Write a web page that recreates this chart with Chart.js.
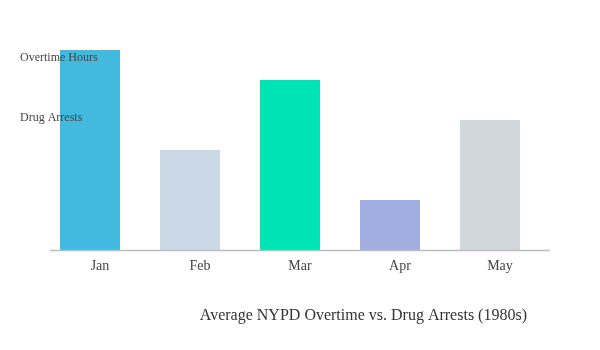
<!DOCTYPE html>
<html>
<head>
<meta charset="utf-8">
<style>
  html, body { margin: 0; padding: 0; background: #fff; }
  #wrap { width: 600px; height: 350px; }
</style>
<script src="https://cdn.jsdelivr.net/npm/chart.js@4"></script>
</head>
<body>
<div id="wrap"><canvas id="myChart" width="600" height="350"></canvas></div>
<script>
Chart.defaults.font.family = '"Liberation Serif", serif';
Chart.defaults.font.size = 13;
Chart.defaults.color = '#444';

// data
const months = ['Jan', 'Feb', 'Mar', 'Apr', 'May'];
const values = [200, 100, 170, 50, 130];
const barColors = ['#42b9de', '#cbd8e6', '#00e3b5', '#a2aee0', '#d0d8db'];
const yLabels = ['Overtime Hours', 'Drug Arrests'];
const yLabelValues = [192, 132];

// shifted baseline + title nudge
const tweaks = {
  id: 'tweaks',
  afterLayout(chart) {
    if (chart.titleBlock) chart.titleBlock.right -= 13;
  },
  afterDatasetsDraw(chart) {
    const x = chart.scales.x;
    const ctx = chart.ctx;
    ctx.save();
    ctx.strokeStyle = '#bdbdbd';
    ctx.lineWidth = 1.5;
    ctx.beginPath();
    ctx.moveTo(x.left + 10, x.top + 0.5);
    ctx.lineTo(x.right + 10, x.top + 0.5);
    ctx.stroke();
    ctx.restore();
  }
};

const config = {
  type: 'bar',
  data: {
    labels: months,
    datasets: [{
      data: values,
      backgroundColor: barColors,
      borderWidth: 0,
      barPercentage: 0.6,
      categoryPercentage: 1.0
    }]
  },
  options: {
    responsive: false,
    animation: false,
    layout: {
      padding: { left: 20, top: 50, right: 60, bottom: 15 }
    },
    scales: {
      x: {
        grid: { display: false, drawTicks: false },
        border: { display: false },
        ticks: { padding: 8, labelOffset: 10, color: '#444', font: { size: 14 } }
      },
      y: {
        min: 0,
        max: 200,
        grid: { display: false, drawTicks: false },
        border: { display: false },
        afterFit(scale) { scale.width = 20; },
        afterBuildTicks(scale) {
          scale.ticks = yLabelValues.map(v => ({ value: v }));
        },
        ticks: {
          z: 1,
          mirror: true,
          crossAlign: 'near',
          padding: -20,
          color: '#444',
          font: { size: 12 },
          callback: (v, i) => yLabels[i]
        }
      }
    },
    plugins: {
      legend: { display: false },
      tooltip: { enabled: false },
      title: {
        display: true,
        position: 'bottom',
        align: 'end',
        text: 'Average NYPD Overtime vs. Drug Arrests (1980s)',
        color: '#333',
        font: { size: 16, weight: 'normal' },
        padding: { top: 23, bottom: 10 }
      }
    }
  },
  plugins: [tweaks]
};

const myChart = new Chart(document.getElementById('myChart'), config);
</script>
</body>
</html>
